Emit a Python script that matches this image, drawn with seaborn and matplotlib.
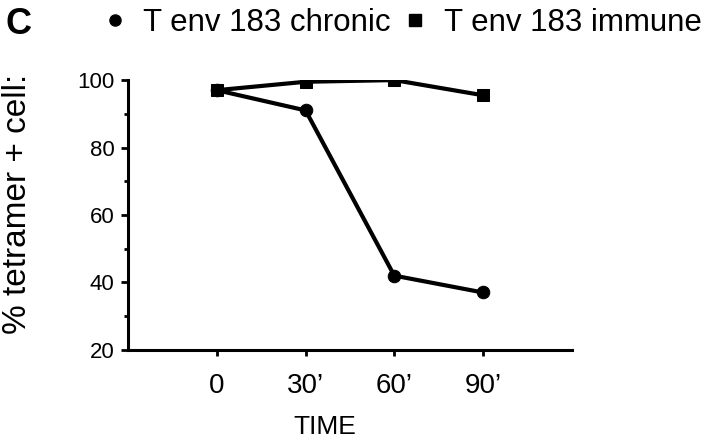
import pandas as pd
import matplotlib.pyplot as plt
import seaborn as sns

time_min = [0, 30, 60, 90]
time_labels = ["0", "30\u2019", "60\u2019", "90\u2019"]
chronic = [97, 91, 42, 37]
immune = [97, 99.5, 100, 95.5]

df = pd.DataFrame({
    "time": time_min * 2,
    "pct": chronic + immune,
    "group": ["T env 183 chronic"] * 4 + ["T env 183 immune"] * 4,
})

sns.set_style("ticks", {"axes.edgecolor": "black", "text.color": "black",
                        "axes.labelcolor": "black", "xtick.color": "black",
                        "ytick.color": "black"})
plt.rcParams["font.family"] = ["Liberation Sans", "DejaVu Sans"]

fig = plt.figure(figsize=(7.2, 4.4), dpi=100)
ax = fig.add_axes([0.178, 0.205, 0.616, 0.613])

sns.lineplot(data=df, x="time", y="pct", hue="group", style="group",
             markers={"T env 183 chronic": "o", "T env 183 immune": "s"},
             dashes=False, palette=["black", "black"], linewidth=3,
             markersize=9, markeredgecolor="black", ax=ax, legend=False)

ax.set_xlim(-30, 120)
ax.set_ylim(20, 100)
ax.set_yticks([20, 40, 60, 80, 100])
ax.set_yticks([30, 50, 70, 90], minor=True)
ax.set_xticks(time_min)
ax.set_xticklabels(time_labels)
ax.tick_params(axis="y", labelsize=16, width=2, length=5, pad=5)
ax.tick_params(axis="y", which="minor", width=2, length=3)
ax.tick_params(axis="x", labelsize=20, width=2, length=4, pad=13)
for s in ["left", "bottom"]:
    ax.spines[s].set_linewidth(2.2)
sns.despine(ax=ax)

ax.set_xlabel("TIME", fontsize=19)
ax.xaxis.set_label_coords(0.444, -0.24)
ax.set_ylabel("% tetramer + cell:", fontsize=24)
ax.yaxis.set_label_coords(-0.215, 0.54)

h1 = plt.Line2D([], [], color="black", marker="o", linestyle="none", markersize=8)
h2 = plt.Line2D([], [], color="black", marker="s", linestyle="none", markersize=9)
fig.legend([h1, h2], ["T env 183 chronic", "T env 183 immune"], ncol=2,
           loc="center left", bbox_to_anchor=(0.142, 0.947), frameon=False,
           fontsize=22.5, handlelength=0.8, handletextpad=0.5, columnspacing=0.4,
           borderpad=0, borderaxespad=0)

fig.text(0.007, 0.985, "C", fontsize=26, fontweight="bold", va="top")

fig.savefig("out.png", dpi=100)
